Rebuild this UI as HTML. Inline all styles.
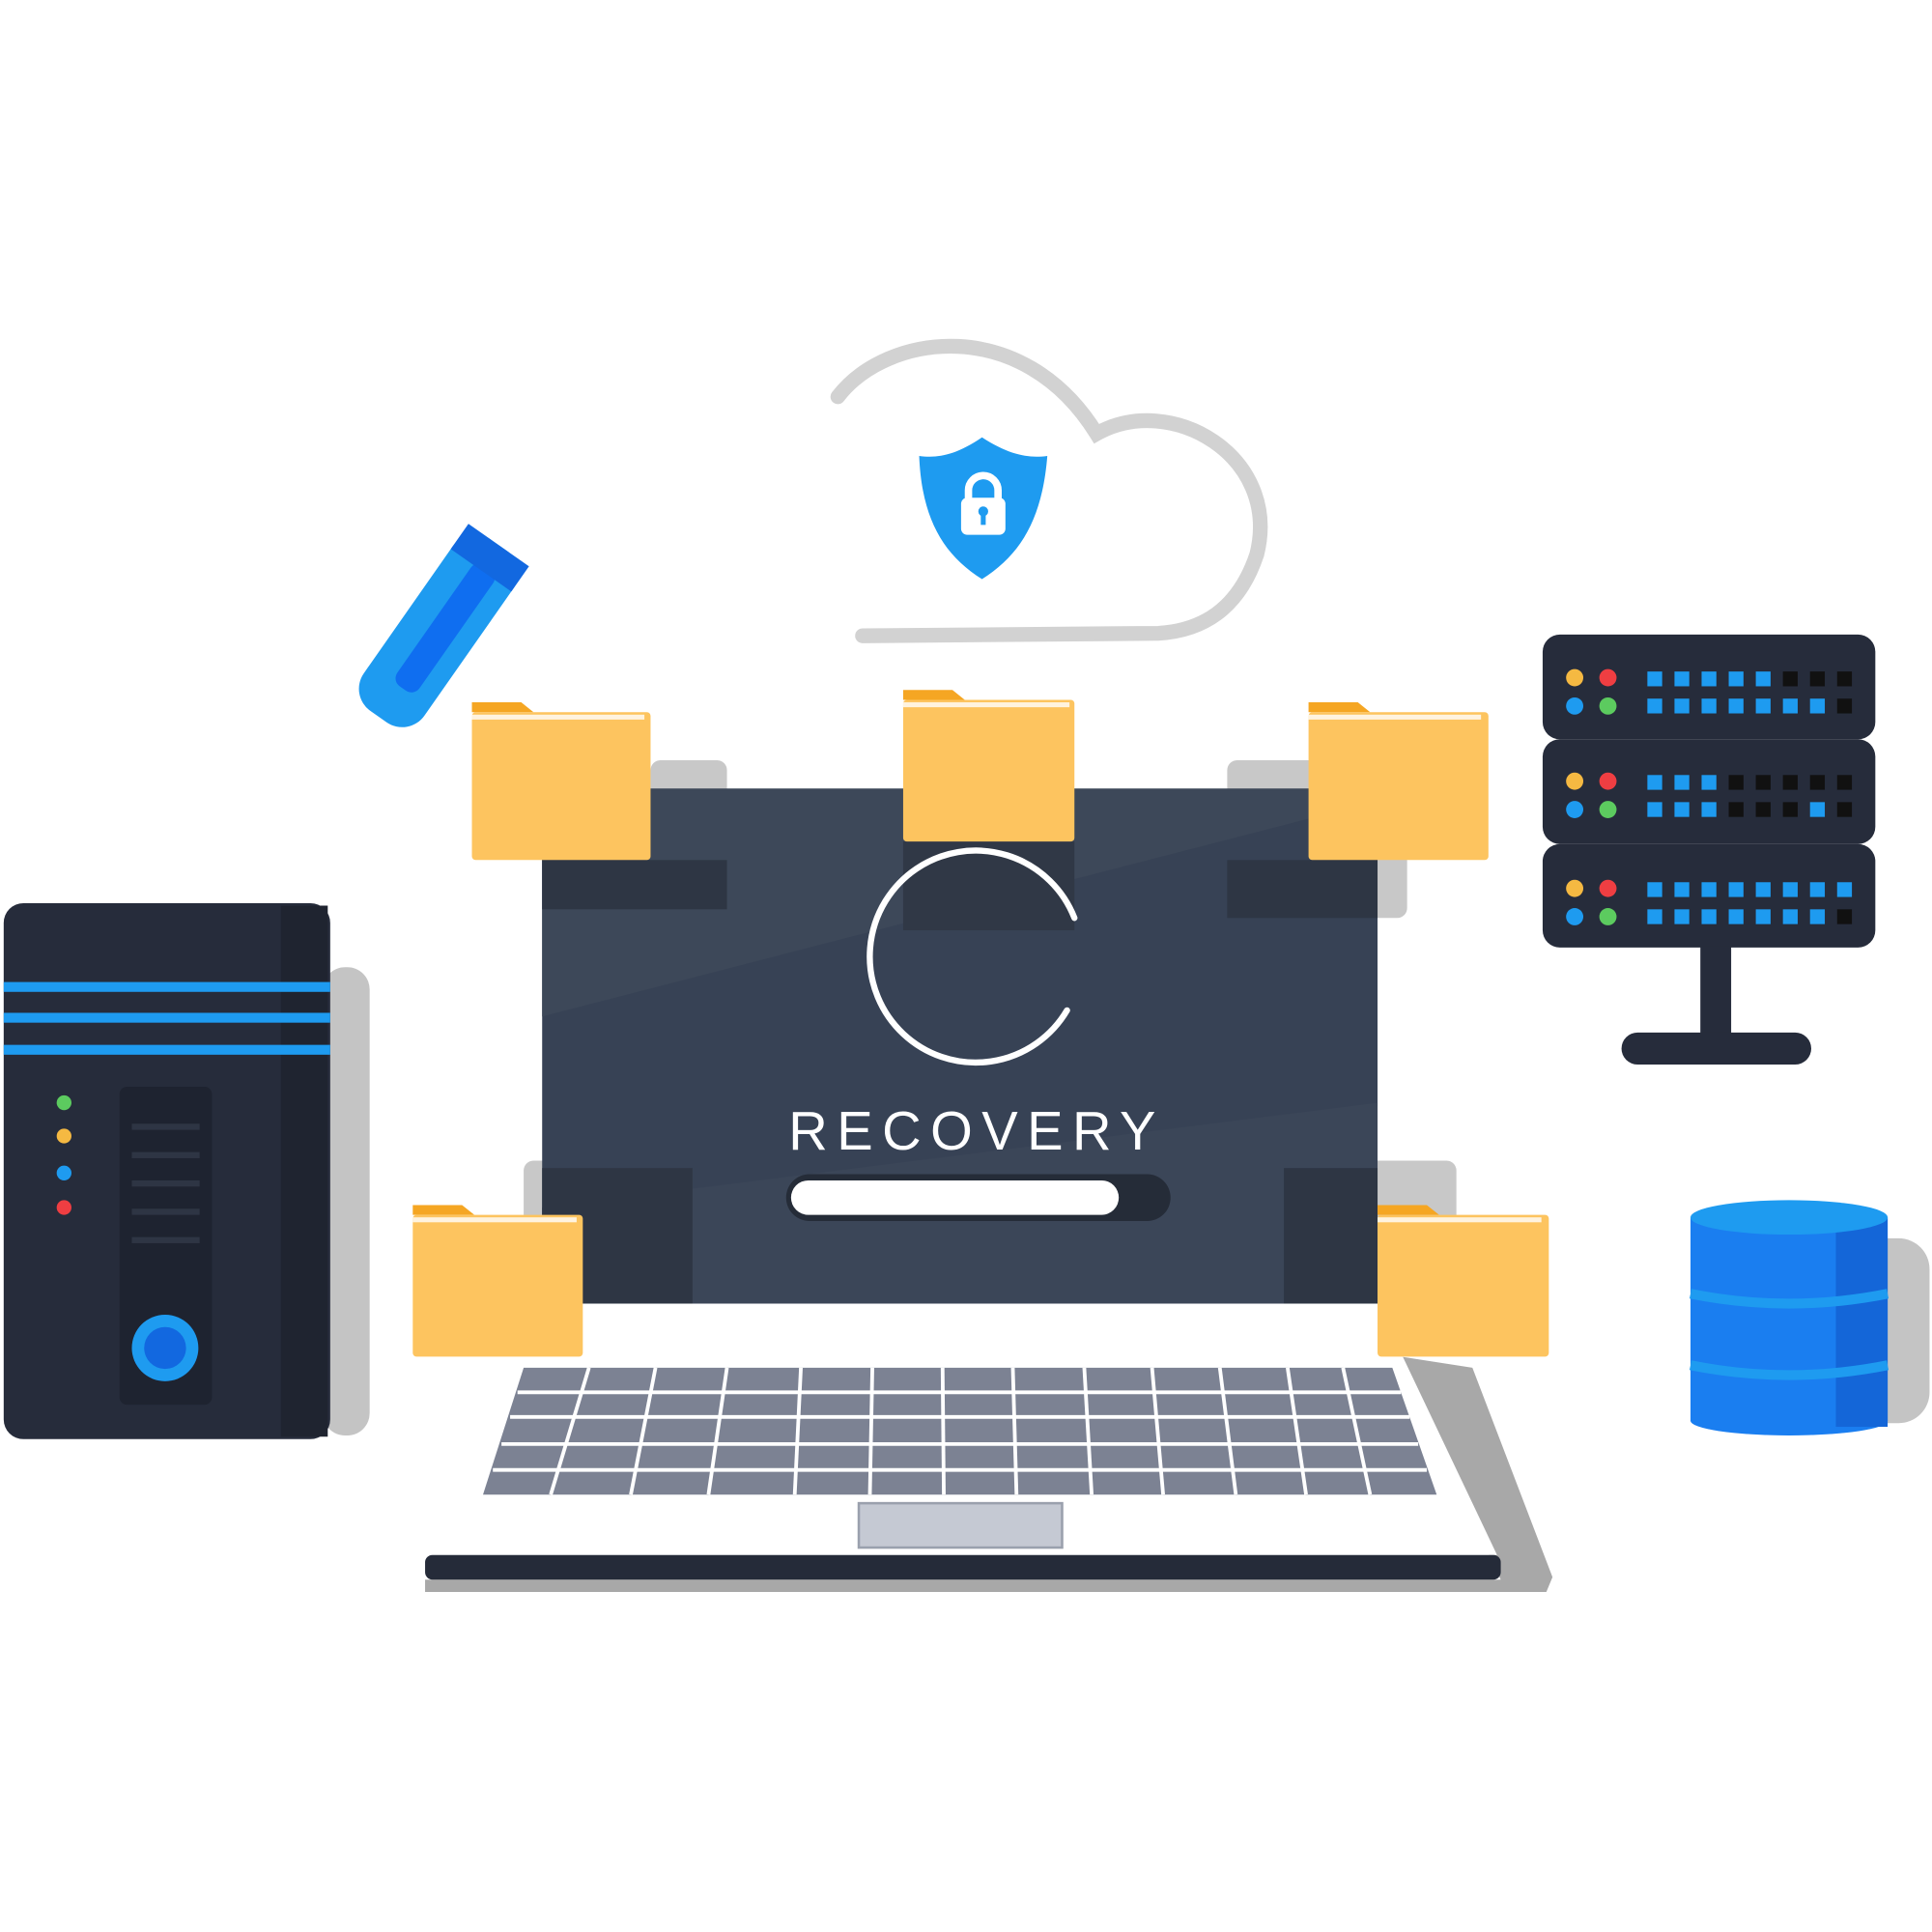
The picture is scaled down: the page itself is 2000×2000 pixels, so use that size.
<!DOCTYPE html>
<html><head><meta charset="utf-8"><style>
html,body{margin:0;padding:0;background:#fff;width:2000px;height:2000px;overflow:hidden}
svg{display:block}
</style></head><body>
<svg width="2000" height="2000" viewBox="0 0 1568 1568" xmlns="http://www.w3.org/2000/svg">
<rect width="1568" height="1568" fill="#fff"/>
<!-- cloud -->
<path d="M680,322 C720,270 830,255 890,352 C950,318 1040,370 1020,450 C1005,495 975,512 940,514 L700,516" fill="none" stroke="#d2d2d2" stroke-width="12" stroke-linecap="round"/>
<!-- shield -->
<path d="M797,355 C775,370 760,372 746,370 C748,420 765,450 797,470 C829,450 846,420 850,370 C836,372 820,370 797,355 Z" fill="#1e9bf0"/>
<rect x="780" y="404" width="36" height="30" rx="5" fill="#fff"/>
<path d="M786,406 v-8 a12,12 0 0 1 24,0 v8" fill="none" stroke="#fff" stroke-width="6"/>
<circle cx="798" cy="415" r="4" fill="#1e9bf0"/><rect x="796" y="416" width="4" height="10" fill="#1e9bf0"/>
<!-- USB -->
<g transform="translate(356,512) rotate(-55)">
<rect x="-85" y="-30" width="170" height="60" rx="22" fill="#1e9bf0"/>
<rect x="-55" y="-8" width="120" height="22" rx="8" fill="#0f6ef0"/>
<rect x="60" y="-30" width="25" height="60" fill="#1268e0"/>
</g>
<!-- laptop shadows -->
<polygon points="1130,1100 1195,1110 1260,1280 1255,1292 345,1292 345,1282 1218,1282" fill="#a8a8a8"/>
<rect x="528" y="617" width="62" height="120" rx="8" fill="#c8c8c8"/>
<rect x="996" y="617" width="146" height="128" rx="8" fill="#c8c8c8"/>
<rect x="425" y="942" width="138" height="115" rx="8" fill="#c8c8c8"/>
<rect x="1042" y="942" width="140" height="115" rx="8" fill="#c8c8c8"/>
<!-- screen -->
<rect x="440" y="640" width="678" height="418" fill="#374255"/>
<polygon points="440,640 1118,640 1118,650 440,825" fill="#3d4859"/>
<polygon points="440,980 1118,895 1118,1058 440,1058" fill="#3b4658"/>
<rect x="440" y="698" width="150" height="40" fill="#2e3644"/>
<rect x="996" y="698" width="122" height="47" fill="#2e3644"/>
<rect x="440" y="948" width="122" height="110" fill="#2e3644"/>
<rect x="1042" y="948" width="76" height="110" fill="#2e3644"/>
<rect x="733" y="683" width="139" height="72" fill="#303846"/>
<!-- spinner -->
<path d="M872,745 A86,86 0 1 0 866,820" fill="none" stroke="#fff" stroke-width="5" stroke-linecap="round"/>
<text x="640" y="933" textLength="298" lengthAdjust="spacing" font-family="Liberation Sans, sans-serif" font-size="44" fill="#fff">RECOVERY</text>
<rect x="638" y="953" width="312" height="38" rx="19" fill="#252c38"/>
<rect x="642" y="958" width="266" height="28" rx="14" fill="#fff"/>
<!-- base -->
<polygon points="440,1058 1118,1058 1215,1262 345,1262" fill="#fff"/>
<rect x="345" y="1262" width="873" height="20" rx="6" fill="#252b39"/>
<polygon points="425,1110 1130,1110 1166,1213 392,1213" fill="#7c8293"/>
<g stroke="#fff" stroke-width="3">
<line x1="420" y1="1130" x2="1137" y2="1130"/><line x1="414" y1="1150" x2="1144" y2="1150"/><line x1="407" y1="1172" x2="1151" y2="1172"/><line x1="400" y1="1193" x2="1158" y2="1193"/>
<line x1="478" y1="1110" x2="447" y2="1213"/><line x1="532" y1="1110" x2="512" y2="1213"/><line x1="590" y1="1110" x2="575" y2="1213"/><line x1="650" y1="1110" x2="645" y2="1213"/><line x1="708" y1="1110" x2="706" y2="1213"/><line x1="765" y1="1110" x2="766" y2="1213"/><line x1="822" y1="1110" x2="825" y2="1213"/><line x1="880" y1="1110" x2="886" y2="1213"/><line x1="935" y1="1110" x2="944" y2="1213"/><line x1="990" y1="1110" x2="1003" y2="1213"/><line x1="1045" y1="1110" x2="1060" y2="1213"/><line x1="1090" y1="1110" x2="1112" y2="1213"/>
</g>
<rect x="697" y="1220" width="165" height="36" fill="#c5c9d3" stroke="#9aa0ad" stroke-width="2"/>
<!-- folders -->
<g fill="#fdc45f">
<path d="M383,578 v-8 h40 l10,8 h90 z" fill="#f5a623"/><rect x="383" y="578" width="145" height="120" rx="3"/>
<path d="M733,568 v-8 h40 l10,8 h85 z" fill="#f5a623"/><rect x="733" y="568" width="139" height="115" rx="3"/>
<path d="M1062,578 v-8 h40 l10,8 h92 z" fill="#f5a623"/><rect x="1062" y="578" width="146" height="120" rx="3"/>
<path d="M335,986 v-8 h40 l10,8 h85 z" fill="#f5a623"/><rect x="335" y="986" width="138" height="115" rx="3"/>
<path d="M1118,986 v-8 h40 l10,8 h85 z" fill="#f5a623"/><rect x="1118" y="986" width="139" height="115" rx="3"/>
</g>
<g fill="#fff" opacity="0.8">
<rect x="383" y="580" width="140" height="4"/><rect x="733" y="570" width="135" height="4"/><rect x="1062" y="580" width="140" height="4"/><rect x="335" y="988" width="133" height="4"/><rect x="1118" y="988" width="133" height="4"/>
</g>
<!-- tower -->
<rect x="262" y="785" width="38" height="380" rx="18" fill="#c4c4c4"/>
<rect x="3" y="733" width="265" height="435" rx="16" fill="#262c3b"/>
<rect x="228" y="735" width="38" height="431" fill="#1f2430"/>
<g fill="#1e9bf0"><rect x="3" y="797" width="265" height="8"/><rect x="3" y="822" width="265" height="8"/><rect x="3" y="848" width="265" height="8"/></g>
<circle cx="52" cy="895" r="6" fill="#5ccb5f"/><circle cx="52" cy="922" r="6" fill="#f5b942"/><circle cx="52" cy="952" r="6" fill="#1e9bf0"/><circle cx="52" cy="980" r="6" fill="#ef3e42"/>
<rect x="97" y="882" width="75" height="258" rx="6" fill="#1e2330"/>
<g fill="#2e3544"><rect x="107" y="912" width="55" height="5"/><rect x="107" y="935" width="55" height="5"/><rect x="107" y="958" width="55" height="5"/><rect x="107" y="981" width="55" height="5"/><rect x="107" y="1004" width="55" height="5"/></g>
<circle cx="134" cy="1094" r="27" fill="#1e9bf0"/><circle cx="134" cy="1094" r="17" fill="#1268e0"/>
<!-- server rack -->
<g fill="#262c3b">
<rect x="1252" y="515" width="270" height="85" rx="14"/><rect x="1252" y="600" width="270" height="85" rx="14"/><rect x="1252" y="685" width="270" height="84" rx="14"/>
<rect x="1380" y="768" width="25" height="72"/><rect x="1316" y="838" width="154" height="26" rx="13"/>
</g>
<g>
<circle cx="1278" cy="550" r="7" fill="#f5b942"/><circle cx="1305" cy="550" r="7" fill="#ef3e42"/><circle cx="1278" cy="573" r="7" fill="#1e9bf0"/><circle cx="1305" cy="573" r="7" fill="#5ccb5f"/>
<circle cx="1278" cy="634" r="7" fill="#f5b942"/><circle cx="1305" cy="634" r="7" fill="#ef3e42"/><circle cx="1278" cy="657" r="7" fill="#1e9bf0"/><circle cx="1305" cy="657" r="7" fill="#5ccb5f"/>
<circle cx="1278" cy="721" r="7" fill="#f5b942"/><circle cx="1305" cy="721" r="7" fill="#ef3e42"/><circle cx="1278" cy="744" r="7" fill="#1e9bf0"/><circle cx="1305" cy="744" r="7" fill="#5ccb5f"/>
</g>
<g fill="#1e9bf0">
<rect x="1337" y="545" width="12" height="12"/><rect x="1359" y="545" width="12" height="12"/><rect x="1381" y="545" width="12" height="12"/><rect x="1403" y="545" width="12" height="12"/><rect x="1425" y="545" width="12" height="12"/>
<rect x="1337" y="567" width="12" height="12"/><rect x="1359" y="567" width="12" height="12"/><rect x="1381" y="567" width="12" height="12"/><rect x="1403" y="567" width="12" height="12"/><rect x="1425" y="567" width="12" height="12"/><rect x="1447" y="567" width="12" height="12"/><rect x="1469" y="567" width="12" height="12"/>
<rect x="1337" y="629" width="12" height="12"/><rect x="1359" y="629" width="12" height="12"/><rect x="1381" y="629" width="12" height="12"/>
<rect x="1337" y="651" width="12" height="12"/><rect x="1359" y="651" width="12" height="12"/><rect x="1381" y="651" width="12" height="12"/><rect x="1469" y="651" width="12" height="12"/>
<rect x="1337" y="716" width="12" height="12"/><rect x="1359" y="716" width="12" height="12"/><rect x="1381" y="716" width="12" height="12"/><rect x="1403" y="716" width="12" height="12"/><rect x="1425" y="716" width="12" height="12"/><rect x="1447" y="716" width="12" height="12"/><rect x="1469" y="716" width="12" height="12"/><rect x="1491" y="716" width="12" height="12"/>
<rect x="1337" y="738" width="12" height="12"/><rect x="1359" y="738" width="12" height="12"/><rect x="1381" y="738" width="12" height="12"/><rect x="1403" y="738" width="12" height="12"/><rect x="1425" y="738" width="12" height="12"/><rect x="1447" y="738" width="12" height="12"/><rect x="1469" y="738" width="12" height="12"/>
</g>
<g fill="#111">
<rect x="1447" y="545" width="12" height="12"/><rect x="1469" y="545" width="12" height="12"/><rect x="1491" y="545" width="12" height="12"/><rect x="1491" y="567" width="12" height="12"/>
<rect x="1403" y="629" width="12" height="12"/><rect x="1425" y="629" width="12" height="12"/><rect x="1447" y="629" width="12" height="12"/><rect x="1469" y="629" width="12" height="12"/><rect x="1491" y="629" width="12" height="12"/>
<rect x="1403" y="651" width="12" height="12"/><rect x="1425" y="651" width="12" height="12"/><rect x="1447" y="651" width="12" height="12"/><rect x="1491" y="651" width="12" height="12"/><rect x="1491" y="738" width="12" height="12"/>
</g>
<!-- database -->
<rect x="1500" y="1005" width="66" height="150" rx="25" fill="#c4c4c4"/>
<rect x="1372" y="988" width="160" height="165" fill="#1a7ef0"/>
<ellipse cx="1452" cy="1153" rx="80" ry="12" fill="#1a7ef0"/>
<rect x="1490" y="988" width="42" height="170" fill="#1466d8"/>
<ellipse cx="1452" cy="988" rx="80" ry="14" fill="#1e9bf0"/>
<path d="M1372,1050 Q1452,1066 1532,1050" stroke="#1e9bf0" stroke-width="8" fill="none"/>
<path d="M1372,1108 Q1452,1124 1532,1108" stroke="#1e9bf0" stroke-width="8" fill="none"/>
</svg>
</body></html>
